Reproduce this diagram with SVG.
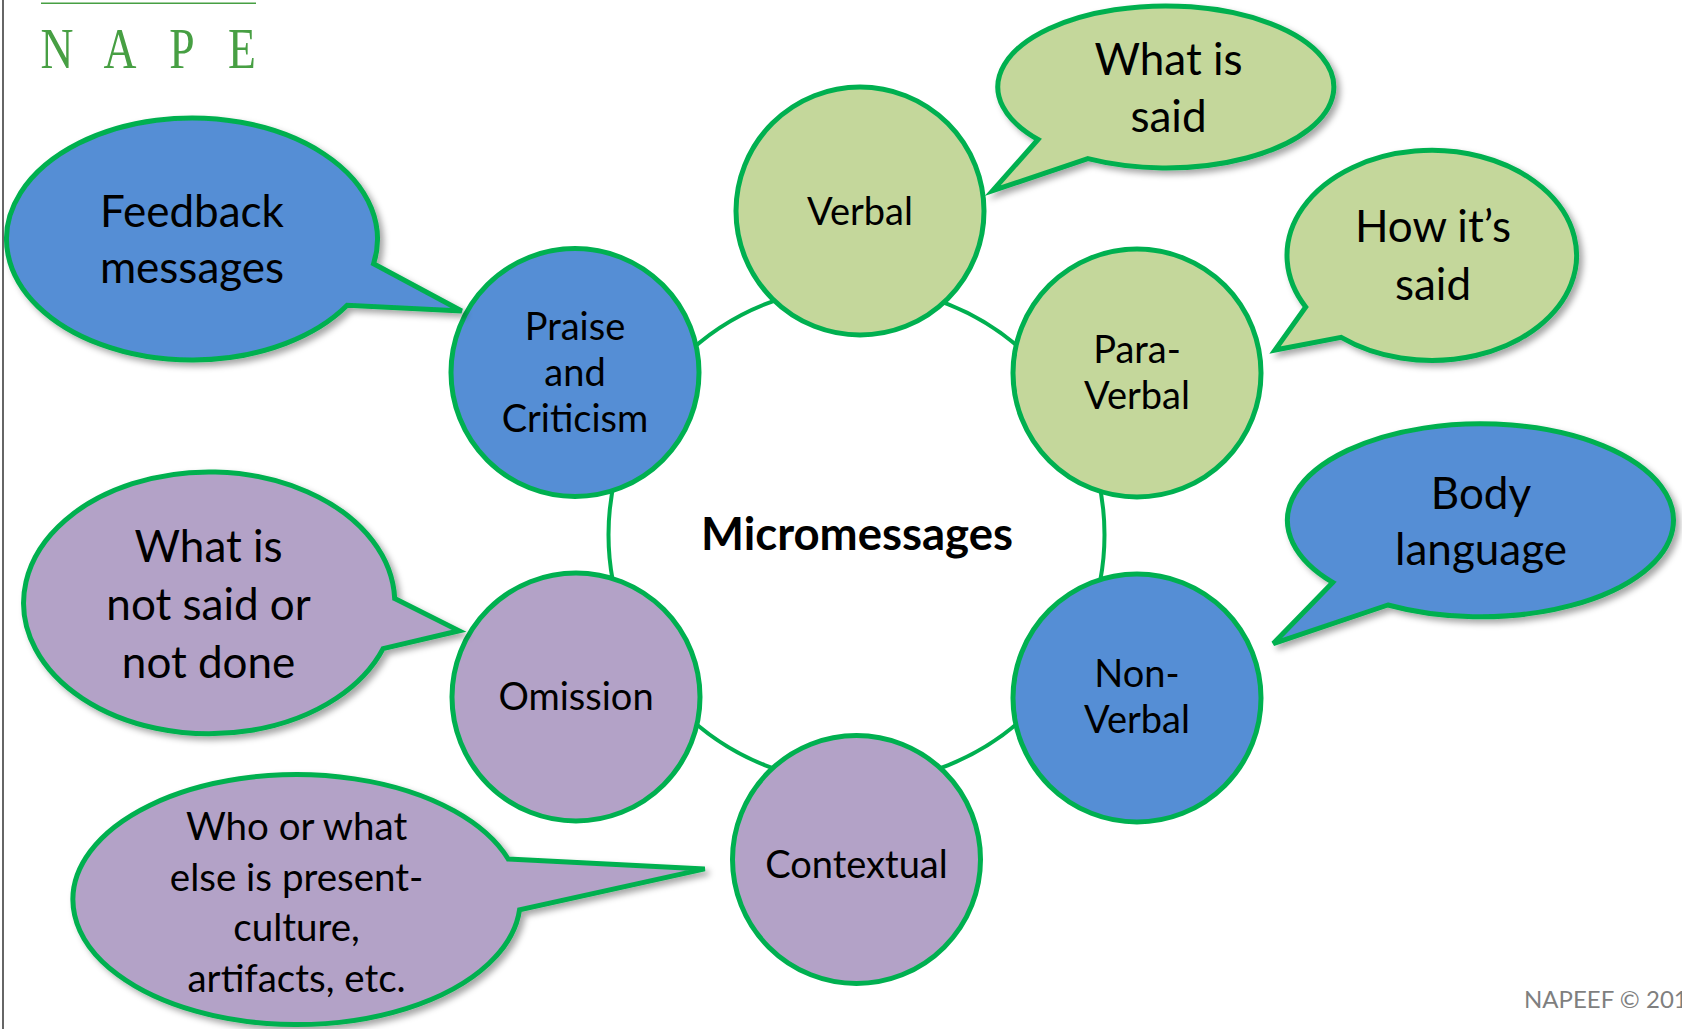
<svg xmlns="http://www.w3.org/2000/svg" width="1682" height="1029" viewBox="0 0 1682 1029">
<defs>
<filter id="shadow" x="-10%" y="-10%" width="125%" height="130%">
<feDropShadow dx="4" dy="4" stdDeviation="3" flood-color="#000" flood-opacity="0.35"/>
</filter>
<style>
.node{stroke:#00B050;stroke-width:5}
.bub{stroke:#00B050;stroke-width:5;stroke-linejoin:miter;filter:url(#shadow)}
.green{fill:#C4D79B}
.blue{fill:#558ED5}
.purple{fill:#B3A2C7}
.t{font-family:Lato,"Liberation Sans",sans-serif;fill:#000;text-anchor:middle}
.nt{font-size:38px}
.bt{font-size:44px}
.st{font-size:38.5px}
.ring{fill:none;stroke:#00B050;stroke-width:4}
.logo{font-family:"Liberation Serif",serif;font-size:57px;fill:#479F43;text-anchor:middle}
</style>
</defs>
<rect width="1682" height="1029" fill="#fff"/>
<line x1="3" y1="0" x2="3" y2="1029" stroke="#333" stroke-width="1.5"/>
<g id="logo">
<line x1="41" y1="3.3" x2="256" y2="3.3" stroke="#479F43" stroke-width="1.5"/>
<text class="logo" transform="translate(57,68) scale(0.8,1)">N</text>
<text class="logo" transform="translate(120,68) scale(0.8,1)">A</text>
<text class="logo" transform="translate(182,68) scale(0.8,1)">P</text>
<text class="logo" transform="translate(242,68) scale(0.8,1)">E</text>
</g>
<g id="connectors">
<circle class="ring" cx="856.5" cy="534.7" r="248"/>
</g>
<g id="center-label">
<text class="t" x="857" y="550" font-size="45.5" font-weight="bold">Micromessages</text>
</g>
<g id="node-verbal">
<circle class="node green" cx="860" cy="211" r="124"/>
<text class="t nt" x="860" y="225">Verbal</text>
</g>
<g id="node-praise">
<circle class="node blue" cx="575" cy="372.5" r="124"/>
<text class="t nt" x="575" y="339.5">Praise</text>
<text class="t nt" x="575" y="386">and</text>
<text class="t nt" x="575" y="432">Criticism</text>
</g>
<g id="node-paraverbal">
<circle class="node green" cx="1137" cy="373" r="124"/>
<text class="t nt" x="1137" y="362.5">Para-</text>
<text class="t nt" x="1137" y="408.5">Verbal</text>
</g>
<g id="node-omission">
<circle class="node purple" cx="576" cy="697" r="124"/>
<text class="t nt" x="576" y="710">Omission</text>
</g>
<g id="node-nonverbal">
<circle class="node blue" cx="1137" cy="698" r="124"/>
<text class="t nt" x="1137" y="686.5">Non-</text>
<text class="t nt" x="1137" y="732.5">Verbal</text>
</g>
<g id="node-contextual">
<circle class="node purple" cx="856.5" cy="859.5" r="124"/>
<text class="t nt" x="856.5" y="877.5">Contextual</text>
</g>
<g id="bubble-what-is-said">
<path class="bub green" d="M1038,139.5 L992.7,190.7 L1087.9,158.7 A168 81 0 1 0 1038,139.5 Z"/>
<text class="t bt" x="1168.5" y="75">What is</text>
<text class="t bt" x="1168.5" y="132">said</text>
</g>
<g id="bubble-how-its-said">
<path class="bub green" d="M1305.7,307 L1275,350 L1341.2,337.3 A144.8 105 0 1 0 1305.7,307 Z"/>
<text class="t bt" x="1433" y="242">How it’s</text>
<text class="t bt" x="1433" y="299.5">said</text>
</g>
<g id="bubble-feedback">
<path class="bub blue" d="M373.6,263.7 L461.7,311 L347.2,305.3 A185.5 121 0 1 1 373.6,263.7 Z"/>
<text class="t bt" x="192" y="227">Feedback</text>
<text class="t bt" x="192" y="283">messages</text>
</g>
<g id="bubble-body-language">
<path class="bub blue" d="M1332.7,582.4 L1273.3,643.6 L1387.9,605 A193 96.5 0 1 0 1332.7,582.4 Z"/>
<text class="t bt" x="1481" y="508.5">Body</text>
<text class="t bt" x="1481" y="565">language</text>
</g>
<g id="bubble-not-said">
<path class="bub purple" d="M394.7,598.6 L459.1,630.8 L383.1,648.6 A185.6 130.9 0 1 1 394.7,598.6 Z"/>
<text class="t bt" x="208.6" y="562">What is</text>
<text class="t bt" x="208.6" y="620">not said or</text>
<text class="t bt" x="208.6" y="678">not done</text>
</g>
<g id="bubble-who-or-what">
<path class="bub purple" d="M508.2,859 L704.8,868.9 L519.6,909.7 A223.7 125 0 1 1 508.2,859 Z"/>
<text class="t st" x="296.6" y="840">Who or what</text>
<text class="t st" x="296.6" y="890.5">else is present-</text>
<text class="t st" x="296.6" y="941">culture,</text>
<text class="t st" x="296.6" y="991.5">artifacts, etc.</text>
</g>
<text x="1524" y="1008" font-family="Lato,'Liberation Sans',sans-serif" font-size="24" fill="#7F7F7F">NAPEEF © 201</text>
</svg>
